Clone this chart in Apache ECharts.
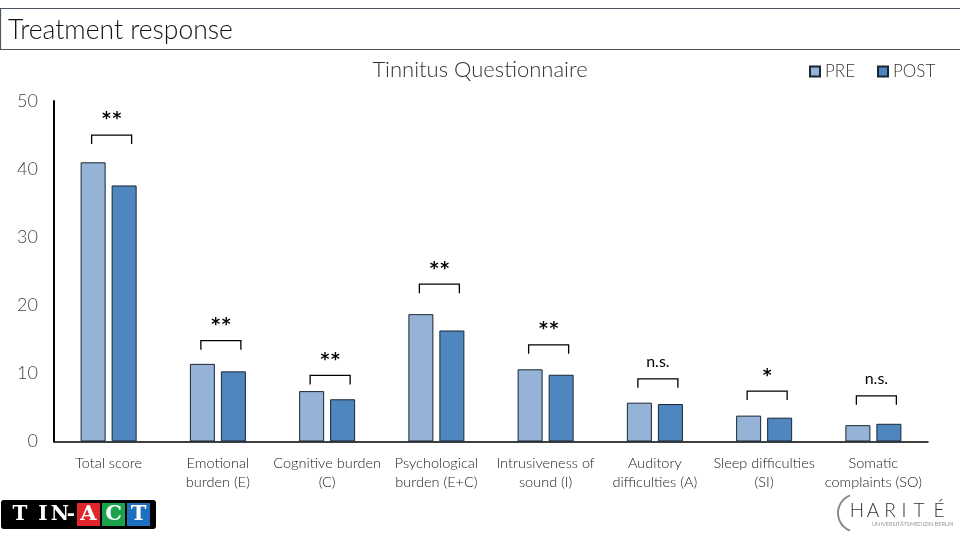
<!DOCTYPE html>
<html>
<head>
<meta charset="utf-8">
<script src="https://cdn.jsdelivr.net/npm/echarts@6/dist/echarts.min.js"></script>
<style>html,body{margin:0;padding:0;background:#fff;}#c{width:960px;height:540px;}</style>
</head>
<body>
<div id="c"></div>
<script>
const categories = ['Total score', 'Emotional\nburden (E)', 'Cognitive burden\n(C)', 'Psychological\nburden (E+C)', 'Intrusiveness of\nsound (I)', 'Auditory\ndifficulties (A)', 'Sleep difficulties\n(SI)', 'Somatic\ncomplaints (SO)'];
const preValues = [41.0, 11.4, 7.4, 18.7, 10.6, 5.7, 3.8, 2.4];
const postValues = [37.6, 10.3, 6.2, 16.3, 9.8, 5.5, 3.5, 2.6];
const bracketLevels = [45.0, 14.8, 9.7, 23.1, 14.2, 9.2, 7.4, 6.7];
const significance = ['**', '**', '**', '**', '**', 'n.s.', '*', 'n.s.'];
const yTicks = [0, 10, 20, 30, 40, 50];

const FONT = 'Lato, "Open Sans", sans-serif';
const chart = echarts.init(document.getElementById('c'));

const bracketData = categories.map((c, i) => [i, bracketLevels[i], significance[i]]);

function letters(str, xs, y, font, fill) {
  return str.split('').map((ch, k) => ({
    type: 'text', style: { text: ch, x: xs[k], y: y, align: 'center', verticalAlign: 'middle', font: font, fill: fill }
  }));
}

chart.setOption({
  animation: false,
  backgroundColor: '#fff',
  textStyle: { fontFamily: FONT },
  title: {
    text: 'Tinnitus Questionnaire',
    left: 'center',
    top: 59,
    padding: 0,
    textStyle: { fontFamily: FONT, fontSize: 22, fontWeight: 300, color: '#333' }
  },
  legend: {
    data: ['PRE', 'POST'],
    left: 809,
    top: 63,
    padding: 0,
    icon: 'rect',
    itemWidth: 10,
    itemHeight: 10,
    itemGap: 22,
    textStyle: { fontFamily: FONT, fontSize: 17, fontWeight: 300, color: '#333' }
  },
  grid: { left: 54, right: 32, top: 101, bottom: 98.5, containLabel: false },
  xAxis: {
    type: 'category',
    data: categories,
    axisLine: { lineStyle: { color: '#000', width: 1.5 } },
    axisTick: { show: false },
    axisLabel: { fontFamily: FONT, fontSize: 14.5, fontWeight: 300, color: '#222', lineHeight: 19, margin: 12, interval: 0 }
  },
  yAxis: {
    type: 'value',
    min: yTicks[0],
    max: yTicks[yTicks.length - 1],
    interval: 10,
    splitLine: { show: false },
    axisLine: { show: true, lineStyle: { color: '#000', width: 2 } },
    axisTick: { show: false },
    axisLabel: { fontFamily: FONT, fontSize: 18, fontWeight: 300, color: '#444', margin: 16 }
  },
  series: [
    {
      name: 'PRE', type: 'bar', data: preValues, barWidth: 25, barGap: '24%',
      itemStyle: { color: '#95b3d7', borderColor: '#1b2633', borderWidth: 1 }
    },
    {
      name: 'POST', type: 'bar', data: postValues, barWidth: 25,
      itemStyle: { color: '#4f86bf', borderColor: '#1b2633', borderWidth: 1 }
    },
    {
      name: 'sig', type: 'custom', data: bracketData, z: 5,
      renderItem: function (params, api) {
        const p = api.coord([api.value(0), api.value(1)]);
        const x = p[0] + 3, y = p[1], hw = 20, tk = 9;
        const label = significance[params.dataIndex];
        const ns = label === 'n.s.';
        return {
          type: 'group',
          children: [
            { type: 'polyline', shape: { points: [[x - hw, y + tk], [x - hw, y], [x + hw, y], [x + hw, y + tk]] },
              style: { stroke: '#000', lineWidth: 1.3, fill: null } },
            { type: 'text', style: { text: ns ? label : label.split('').join('\u200a'), x: x, y: ns ? y - 17 : y - 15, align: 'center', verticalAlign: 'middle',
              font: ns ? 'normal 16px ' + FONT : 'bold 17px "DejaVu Sans", sans-serif', fill: '#000' } }
          ]
        };
      },
      encode: { x: 0, y: 1 }
    }
  ],
  graphic: [
    { type: 'rect', shape: { x: 0.5, y: 8.5, width: 965, height: 41 }, style: { fill: null, stroke: '#4a5560', lineWidth: 1.2 } },
    { type: 'text', style: { text: 'Treatment response', x: 8, y: 30, verticalAlign: 'middle', font: '300 26.5px ' + FONT, fill: '#111' } },
    // TIN-ACT logo
    { type: 'rect', shape: { x: 1, y: 500, width: 155, height: 29, r: 3 }, style: { fill: '#000' } }
  ].concat(
    letters('TIN-', [20, 43, 60, 71], 515, 'bold 20px "DejaVu Serif", serif', '#fff'),
    [
      { type: 'rect', shape: { x: 77, y: 503, width: 23, height: 23 }, style: { fill: '#e0262b' } },
      { type: 'rect', shape: { x: 102, y: 503, width: 23, height: 23 }, style: { fill: '#1aa34a' } },
      { type: 'rect', shape: { x: 127, y: 503, width: 23, height: 23 }, style: { fill: '#1f6fc0' } }
    ],
    letters('ACT', [88.5, 113.5, 138.5], 515, 'bold 21px "DejaVu Serif", serif', '#fff'),
    [
      // CHARITE logo
      { type: 'arc', shape: { cx: 857, cy: 513, r: 19, startAngle: Math.PI * 0.62, endAngle: Math.PI * 1.38, clockwise: true },
        style: { stroke: '#8a8a8a', lineWidth: 2, fill: null } },
      { type: 'text', style: { text: 'UNIVERSITÄTSMEDIZIN BERLIN', x: 872, y: 524, verticalAlign: 'middle', font: 'normal 5.6px ' + FONT, fill: '#999' } }
    ],
    letters('HARITÉ', [857, 873, 890, 904, 919, 939], 511, '300 19px ' + FONT, '#333')
  )
});
</script>
</body>
</html>
